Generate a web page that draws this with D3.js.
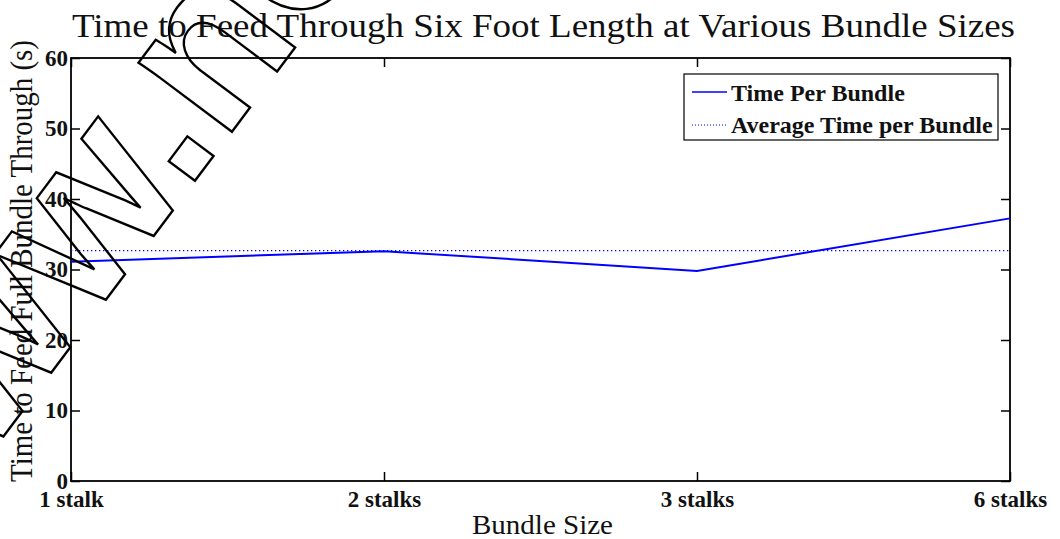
<!DOCTYPE html>
<html>
<head>
<meta charset="utf-8">
<script src="https://cdn.jsdelivr.net/npm/d3@7"></script>
<style>
    body { margin: 0; background: #fff; }
    svg { display: block; }
    .axis text { font-family: "Liberation Serif", serif; font-weight: bold; font-size: 23px; fill: #111; }
</style>
</head>
<body>
<div id="chart"></div>
<script>
// data
const bundleSizes = ["1 stalk", "2 stalks", "3 stalks", "6 stalks"];
const timePerBundle = [31.1, 32.6, 29.8, 37.25];
const yTicks = [0, 10, 20, 30, 40, 50, 60];
const legendLabels = ["Time Per Bundle", "Average Time per Bundle"];

const avgTime = d3.mean(timePerBundle);

let width = 1060, height = 539;
let margin = {top: 58, right: 50, bottom: 58, left: 71};

let svg = d3.select("#chart").append("svg")
    .attr("width", width)
    .attr("height", height);

let x = d3.scalePoint()
    .domain(bundleSizes)
    .range([margin.left, width - margin.right]);

let y = d3.scaleLinear()
    .domain([0, 60])
    .range([height - margin.bottom, margin.top]);

let x0 = margin.left, x1 = width - margin.right;
let y0 = height - margin.bottom, y1 = margin.top;

// inward ticks on all four sides, matlab style
svg.append("g")
    .attr("class", "axis")
    .attr("transform", `translate(0, ${y0})`)
    .call(d3.axisBottom(x).tickSize(-9).tickPadding(10))
    .call(g => g.select(".domain").remove());

svg.append("g")
    .attr("class", "axis")
    .attr("transform", `translate(0, ${y1})`)
    .call(d3.axisTop(x).tickSize(-9).tickFormat(""))
    .call(g => g.select(".domain").remove());

svg.append("g")
    .attr("class", "axis")
    .attr("transform", `translate(${x0}, 0)`)
    .call(d3.axisLeft(y).tickValues(yTicks).tickSize(-9).tickPadding(3))
    .call(g => g.select(".domain").remove());

svg.append("g")
    .attr("class", "axis")
    .attr("transform", `translate(${x1}, 0)`)
    .call(d3.axisRight(y).tickValues(yTicks).tickSize(-9).tickFormat(""))
    .call(g => g.select(".domain").remove());

svg.selectAll(".axis .tick line")
    .attr("stroke", "#000")
    .attr("stroke-width", 1.5);

// plot box
svg.append("rect")
    .attr("x", x0)
    .attr("y", y1)
    .attr("width", x1 - x0)
    .attr("height", y0 - y1)
    .attr("fill", "none")
    .attr("stroke", "#000")
    .attr("stroke-width", 1.8);

// average line
svg.append("line")
    .attr("x1", x0)
    .attr("x2", x1)
    .attr("y1", y(avgTime))
    .attr("y2", y(avgTime))
    .attr("stroke", "#0000ff")
    .attr("stroke-width", 1.2)
    .attr("stroke-dasharray", "1.3,2.7");

// time per bundle
let line = d3.line()
    .x((d, i) => x(bundleSizes[i]))
    .y(d => y(d));

svg.append("path")
    .datum(timePerBundle)
    .attr("d", line)
    .attr("fill", "none")
    .attr("stroke", "#0000ff")
    .attr("stroke-width", 2);

// legend
let legend = svg.append("g");

legend.append("rect")
    .attr("x", 684)
    .attr("y", 74)
    .attr("width", 314)
    .attr("height", 66)
    .attr("fill", "#fff")
    .attr("stroke", "#000")
    .attr("stroke-width", 1.2);

legend.append("line")
    .attr("x1", 692).attr("x2", 727)
    .attr("y1", 92).attr("y2", 92)
    .attr("stroke", "#0000ff")
    .attr("stroke-width", 1.5);

legend.append("line")
    .attr("x1", 692).attr("x2", 727)
    .attr("y1", 125).attr("y2", 125)
    .attr("stroke", "#0000ff")
    .attr("stroke-width", 1)
    .attr("stroke-dasharray", "1,2");

legend.selectAll(".leg-text")
    .data(legendLabels)
    .enter()
    .append("text")
    .attr("class", "leg-text")
    .attr("x", 731)
    .attr("y", (d, i) => 101 + i * 32)
    .attr("font-family", "Liberation Serif, serif")
    .attr("font-weight", "bold")
    .attr("font-size", 24)
    .attr("fill", "#111")
    .text(d => d);

// title and axis labels (stretched a bit, the original font is wider)
svg.append("text")
    .attr("x", 543.5)
    .attr("y", 37)
    .attr("text-anchor", "middle")
    .attr("font-family", "Liberation Serif, serif")
    .attr("font-size", 34)
    .attr("fill", "#111")
    .attr("textLength", 943)
    .attr("lengthAdjust", "spacingAndGlyphs")
    .text("Time to Feed Through Six Foot Length at Various Bundle Sizes");

svg.append("text")
    .attr("x", 542.5)
    .attr("y", 534)
    .attr("text-anchor", "middle")
    .attr("font-family", "Liberation Serif, serif")
    .attr("font-size", 27)
    .attr("fill", "#111")
    .attr("textLength", 141)
    .attr("lengthAdjust", "spacingAndGlyphs")
    .text("Bundle Size");

svg.append("text")
    .attr("transform", "translate(32, 261) rotate(-90)")
    .attr("text-anchor", "middle")
    .attr("font-family", "Liberation Serif, serif")
    .attr("font-size", 31)
    .attr("fill", "#111")
    .attr("textLength", 442)
    .attr("lengthAdjust", "spacingAndGlyphs")
    .text("Time to Feed Full Bundle Through (s)");

// watermark outline
svg.append("text")
    .attr("transform", "translate(-117, 597) rotate(-53.13)")
    .attr("font-family", "Liberation Sans, sans-serif")
    .attr("font-weight", "bold")
    .attr("font-size", 220)
    .attr("fill", "none")
    .attr("stroke", "#000")
    .attr("stroke-width", 2.4)
    .text("www.no");
</script>
</body>
</html>
